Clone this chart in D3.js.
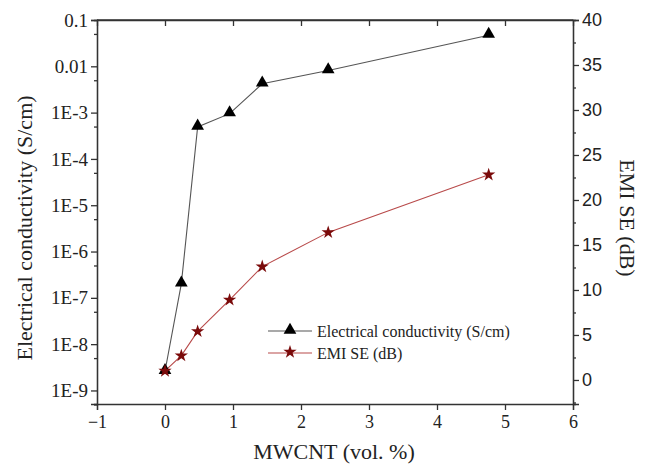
<!DOCTYPE html>
<html>
<head>
<meta charset="utf-8">
<script src="https://d3js.org/d3.v7.min.js"></script>
<style>
  body { margin: 0; background: #fff; }
  svg text { fill: #222; }
  .serif { font-family: "Liberation Serif", "Times New Roman", "DejaVu Serif", serif; }
  .sans { font-family: "Liberation Sans", Arial, sans-serif; }
</style>
</head>
<body>
<div id="chart"></div>
<script>
// MWCNT loading (vol. %)
var loading = [0, 0.24, 0.48, 0.95, 1.43, 2.4, 4.76];
// electrical conductivity (S/cm), log scale, left axis
var conductivity = [2.6e-9, 2e-7, 4.9e-4, 9.5e-4, 4.2e-3, 8.1e-3, 0.047];
// EMI shielding effectiveness (dB), right axis
var emiSE = [1.0, 2.7, 5.4, 8.9, 12.6, 16.4, 22.8];

var xTicks = [-1, 0, 1, 2, 3, 4, 5, 6];
var logTicks = [0.1, 0.01, 1e-3, 1e-4, 1e-5, 1e-6, 1e-7, 1e-8, 1e-9];
var logTickLabels = ["0.1", "0.01", "1E-3", "1E-4", "1E-5", "1E-6", "1E-7", "1E-8", "1E-9"];
var rightTicks = [0, 5, 10, 15, 20, 25, 30, 35, 40];
var rightMinor = [-2.5, 2.5, 7.5, 12.5, 17.5, 22.5, 27.5, 32.5, 37.5];

var margin = {top: 20, right: 73, bottom: 61, left: 97},
    width = 646 - margin.left - margin.right,
    height = 465 - margin.top - margin.bottom;

var svg = d3.select("#chart")
  .append("svg")
    .attr("width", 646)
    .attr("height", 465)
  .append("g")
    .attr("transform", "translate(" + margin.left + "," + margin.top + ")");

var x = d3.scaleLinear().domain([-1, 6]).range([0, width]);
var yLog = d3.scaleLog().domain([5.1e-10, 0.1]).range([height, 0]);
var yLin = d3.scaleLinear().domain([-2.67, 40]).range([height, 0]);

// bottom axis
var xAxis = svg.append("g")
  .attr("transform", "translate(0," + height + ")")
  .call(d3.axisBottom(x).tickValues(xTicks).tickFormat(d3.format("d")).tickSize(6).tickPadding(5));
xAxis.attr("font-family", null).selectAll("text").attr("class", "serif").style("font-size", "18px");

// top mirror axis, ticks inward
svg.append("g")
  .call(d3.axisBottom(x).tickValues(xTicks.slice(1, -1)).tickSize(6).tickFormat(""));
svg.append("line").attr("class", "frame").attr("x1", 0).attr("x2", width).attr("y1", 0).attr("y2", 0);

// left log axis
var yAxis = svg.append("g")
  .call(d3.axisLeft(yLog).tickValues(logTicks)
    .tickFormat(function(d, i) { return logTickLabels[i]; })
    .tickSize(6).tickPadding(3));
yAxis.attr("font-family", null).selectAll("text").attr("class", "serif").style("font-size", "19px");

svg.append("g")
  .call(d3.axisLeft(yLog).tickValues(logTicks.map(function(d) { return d * 0.5; })).tickSize(3).tickFormat(""));

// right linear axis
var rAxis = svg.append("g")
  .attr("transform", "translate(" + width + ",0)")
  .call(d3.axisRight(yLin).tickValues(rightTicks).tickSize(6).tickPadding(3));
rAxis.attr("font-family", null).selectAll("text").attr("class", "sans").style("font-size", "18px");
svg.append("g")
  .attr("transform", "translate(" + width + ",0)")
  .call(d3.axisRight(yLin).tickValues(rightMinor).tickSize(3).tickFormat(""));

svg.selectAll(".domain").attr("stroke", "#333").attr("stroke-width", 1.3);
svg.selectAll(".tick line").attr("stroke", "#333").attr("stroke-width", 1.3);
svg.selectAll("line.frame").attr("stroke", "#333").attr("stroke-width", 1.3);

// axis titles
svg.append("text")
  .attr("class", "serif")
  .attr("transform", "rotate(-90)")
  .attr("x", -(228 - margin.top))
  .attr("y", 24 - margin.left)
  .attr("dy", "0.35em")
  .style("text-anchor", "middle")
  .style("font-size", "22px")
  .text("Electrical conductivity (S/cm)");

svg.append("text")
  .attr("class", "serif")
  .attr("x", 334 - margin.left)
  .attr("y", 459 - margin.top)
  .style("text-anchor", "middle")
  .style("font-size", "22px")
  .text("MWCNT (vol. %)");

svg.append("text")
  .attr("class", "serif")
  .attr("transform", "rotate(90)")
  .attr("x", 218 - margin.top)
  .attr("y", -(628 - margin.left))
  .attr("dy", "0.35em")
  .style("text-anchor", "middle")
  .style("font-size", "22px")
  .text("EMI SE (dB)");

// series
var condData = loading.map(function(d, i) { return [d, conductivity[i]]; });
var emiData = loading.map(function(d, i) { return [d, emiSE[i]]; });

svg.append("path")
  .datum(condData)
  .attr("fill", "none")
  .attr("stroke", "#555")
  .attr("stroke-width", 1.1)
  .attr("d", d3.line().x(function(d) { return x(d[0]); }).y(function(d) { return yLog(d[1]); }));

svg.append("path")
  .datum(emiData)
  .attr("fill", "none")
  .attr("stroke", "#b84a4a")
  .attr("stroke-width", 1.1)
  .attr("d", d3.line().x(function(d) { return x(d[0]); }).y(function(d) { return yLin(d[1]); }));

var tri = d3.symbol().type(d3.symbolTriangle).size(70);
var star = d3.symbol().type(d3.symbolStar).size(55);

svg.selectAll(".tri")
  .data(condData)
  .enter().append("path")
    .attr("transform", function(d) { return "translate(" + x(d[0]) + "," + (yLog(d[1]) - 1) + ")"; })
    .attr("d", tri)
    .attr("fill", "#000");

svg.selectAll(".star")
  .data(emiData)
  .enter().append("path")
    .attr("transform", function(d) { return "translate(" + x(d[0]) + "," + yLin(d[1]) + ")"; })
    .attr("d", star)
    .attr("fill", "#7a0a0a");

// legend
var legend = svg.append("g").attr("transform", "translate(" + (268 - margin.left) + "," + (331 - margin.top) + ")");
var legendItems = [
  {label: "Electrical conductivity (S/cm)", stroke: "#555", fill: "#000", sym: tri},
  {label: "EMI SE (dB)", stroke: "#b84a4a", fill: "#7a0a0a", sym: star}
];
legendItems.forEach(function(item, i) {
  var g = legend.append("g").attr("transform", "translate(0," + (i * 22) + ")");
  g.append("line").attr("x1", 0).attr("x2", 44).attr("y1", 0).attr("y2", 0)
    .attr("stroke", item.stroke).attr("stroke-width", 1.1);
  g.append("path").attr("d", item.sym).attr("fill", item.fill).attr("transform", "translate(22,-1)");
  g.append("text").attr("class", "serif").attr("x", 49).attr("y", 0).attr("dy", "0.35em")
    .style("font-size", "16px")
    .text(item.label);
});
</script>
</body>
</html>
